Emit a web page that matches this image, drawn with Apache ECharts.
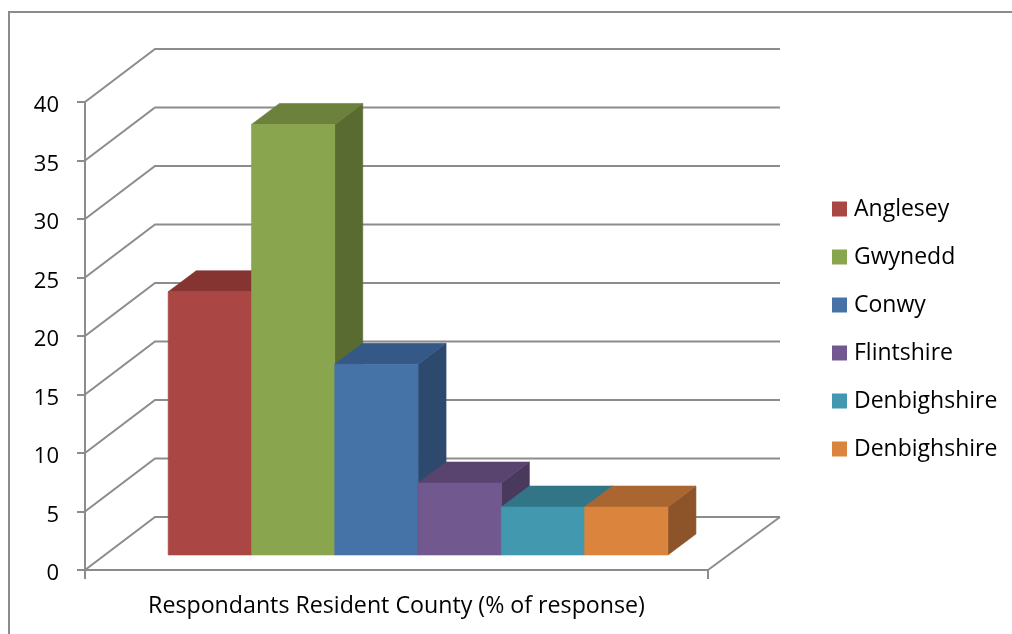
<!DOCTYPE html>
<html>
<head>
<meta charset="utf-8">
<style>html,body{margin:0;padding:0;background:#fff}#c{width:1012px;height:634px}</style>
<script src="https://cdn.jsdelivr.net/npm/echarts@6/dist/echarts.min.js"></script>
</head>
<body>
<div id="c"></div>
<script>
var categories = ['Respondants Resident County (% of response)'];
var seriesNames = ['Anglesey', 'Gwynedd', 'Conwy', 'Flintshire', 'Denbighshire', 'Denbighshire '];
var seriesValues = [22.5, 36.8, 16.3, 6.15, 4.1, 4.1];
var yTicks = [0, 5, 10, 15, 20, 25, 30, 35, 40];
var frontColors = ['#AA4643', '#89A54E', '#4572A7', '#71588F', '#4198AF', '#DB843D'];
var topColors = ['#853431', '#6B813C', '#355986', '#58446F', '#327587', '#AA6630'];
var sideColors = ['#6E2B29', '#596B31', '#2D4A6E', '#49395D', '#2A6070', '#8C5428'];

var FONT = '"Open Sans"';
var GRID_COLOR = '#8c8c8c';
var WALL_DX = 70, WALL_DY = -53;
var BAR_PLANE_DY = -15, BAR_DX = 28, BAR_DY = -21;
var BAR_START = 0.1335, BAR_STEP = 0.1337;

function gridRender(params, api) {
  var p = api.coord([0, api.value(1)]);
  var band = api.size([1, 0])[0];
  var x0 = p[0] - band / 2, y = p[1];
  return {
    type: 'polyline',
    shape: { points: [[x0, y], [x0 + WALL_DX, y + WALL_DY], [x0 + band + WALL_DX + 2, y + WALL_DY]] },
    style: { stroke: GRID_COLOR, fill: null, lineWidth: 2 },
    silent: true
  };
}
function floorRender(params, api) {
  var p = api.coord([0, 0]);
  var band = api.size([1, 0])[0];
  var x1 = p[0] + band / 2;
  return {
    type: 'line',
    shape: { x1: x1, y1: p[1], x2: x1 + WALL_DX + 2, y2: p[1] + WALL_DY },
    style: { stroke: GRID_COLOR, lineWidth: 2 },
    silent: true
  };
}
function barRender(i) {
  return function (params, api) {
    var base = api.coord([0, 0]);
    var t = api.coord([0, api.value(1)]);
    var band = api.size([1, 0])[0];
    var x0 = base[0] - band / 2 + band * (BAR_START + BAR_STEP * i);
    var x1 = x0 + band * BAR_STEP;
    var yB = base[1] + BAR_PLANE_DY, yT = t[1] + BAR_PLANE_DY;
    var lw = 0.6;
    return {
      type: 'group',
      children: [
        { type: 'polygon', shape: { points: [[x1, yB], [x1 + BAR_DX, yB + BAR_DY], [x1 + BAR_DX, yT + BAR_DY], [x1, yT]] },
          style: { fill: sideColors[i], stroke: sideColors[i], lineWidth: lw } },
        { type: 'polygon', shape: { points: [[x0, yT], [x0 + BAR_DX, yT + BAR_DY], [x1 + BAR_DX, yT + BAR_DY], [x1, yT]] },
          style: { fill: topColors[i], stroke: topColors[i], lineWidth: lw } },
        { type: 'rect', shape: { x: x0, y: yT, width: x1 - x0, height: yB - yT },
          style: { fill: frontColors[i], stroke: frontColors[i], lineWidth: lw } }
      ]
    };
  };
}

var series = [
  { type: 'custom', name: '_grid', silent: true, renderItem: gridRender, z: 1, clip: false,
    data: yTicks.map(function (v) { return [0, v]; }), encode: { x: 0, y: 1 } },
  { type: 'custom', name: '_floor', silent: true, renderItem: floorRender, z: 1, clip: false,
    data: [[0, 0]], encode: { x: 0, y: 1 } }
];
seriesNames.forEach(function (n, i) {
  series.push({
    type: 'custom', name: n, renderItem: barRender(i), z: 2, clip: false,
    itemStyle: { color: frontColors[i] },
    data: [[0, seriesValues[i]]], encode: { x: 0, y: 1 }
  });
});

var chart = echarts.init(document.getElementById('c'), null, { renderer: 'canvas' });
chart.setOption({
  animation: false,
  backgroundColor: '#fff',
  textStyle: { fontFamily: FONT },
  grid: { left: 85, top: 102, width: 623, height: 468, containLabel: false },
  graphic: [{
    type: 'polyline', silent: true, z: 0,
    shape: { points: [[9, 634], [9, 12], [1012, 12]] },
    style: { stroke: GRID_COLOR, fill: null, lineWidth: 2 }
  }],
  legend: {
    show: true, orient: 'vertical', left: 827, top: 188,
    data: seriesNames,
    icon: 'rect', itemWidth: 15, itemHeight: 15, itemGap: 16,
    selectedMode: false,
    formatter: function (n) { return n.trim(); },
    textStyle: { fontFamily: FONT, fontSize: 23, color: '#000', lineHeight: 26, padding: [6, 0, 0, 2] }
  },
  xAxis: {
    type: 'category', data: categories, boundaryGap: true,
    axisLine: { show: true, lineStyle: { color: GRID_COLOR, width: 2 } },
    axisTick: { show: true, length: 9, inside: false, lineStyle: { color: GRID_COLOR, width: 2 } },
    axisLabel: { show: true, color: '#000', fontFamily: FONT, fontSize: 23.2, margin: 25, interval: 0 },
    splitLine: { show: false }
  },
  yAxis: {
    type: 'value', min: 0, max: 40, interval: 5,
    axisLine: { show: true, lineStyle: { color: GRID_COLOR, width: 2 } },
    axisTick: { show: true, length: 8, lineStyle: { color: GRID_COLOR, width: 2 } },
    axisLabel: { color: '#000', fontFamily: FONT, fontSize: 22, margin: 26, verticalAlign: 'top', lineHeight: 8 },
    splitLine: { show: false }
  },
  tooltip: { show: false },
  series: series
});
</script>
</body>
</html>
